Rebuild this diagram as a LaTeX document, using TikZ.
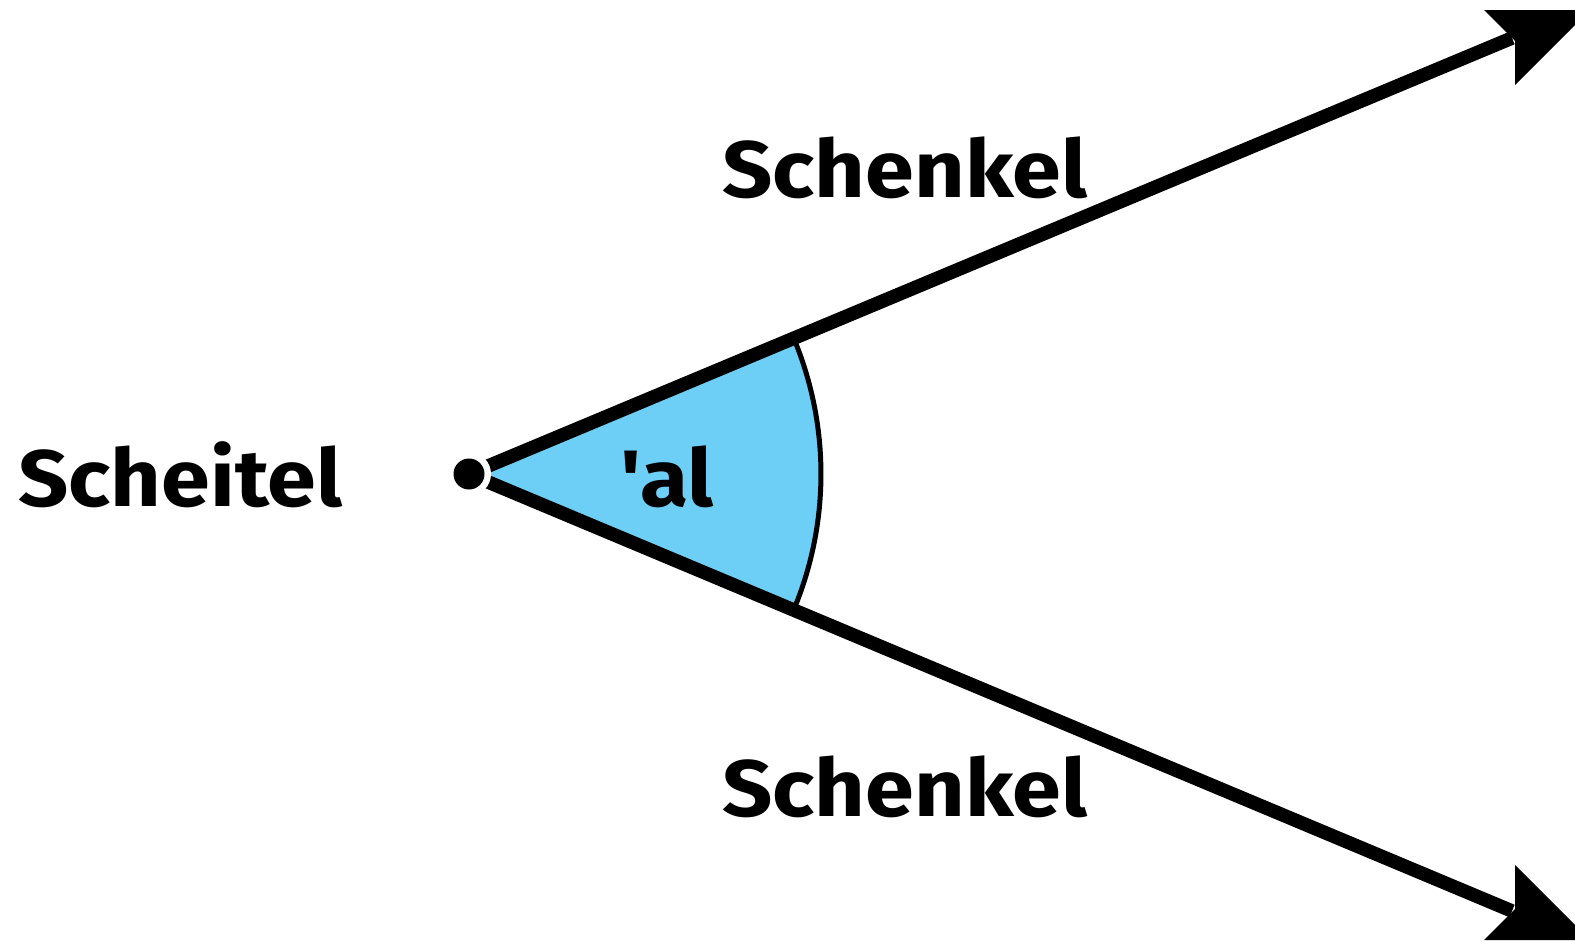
\documentclass[tikz,border=0pt]{standalone}
\usepackage{fontspec}
\setmainfont{Fira Sans}[Ligatures=TeXOff]
\definecolor{angblue}{RGB}{109,207,246}
\begin{document}
\begin{tikzpicture}[x=0.5pt,y=-0.5pt,
  leg/.style={line width=6.8pt},
  lbl/.style={font=\fontsize{40}{40}\selectfont\bfseries, inner sep=0pt, anchor=base west, xscale=1.1},
  head/.style={fill=black}]
\useasboundingbox (0,0) rectangle (1575,942);
\clip (0,0) rectangle (1575,942);
\coordinate (V) at (469,474);
\coordinate (E1) at (1512,38);
\coordinate (E2) at (1512,911);
\coordinate (A1) at (793.7,338.2);
% sector
\fill[angblue] (V) -- (A1) arc[start angle=22.7, end angle=-22.7, radius=176pt] -- cycle;
\draw[line width=2.5pt] (A1) arc[start angle=22.7, end angle=-22.7, radius=176pt];
% legs
\draw[leg] (V) -- (E1);
\draw[leg] (V) -- (E2);
% arrowheads
\fill[head] (1484,10) -- (1515,41) -- (1515,85) -- (1595,5) -- (1595,10) -- cycle;
\fill[head] (1484,940) -- (1515,909) -- (1515,865) -- (1595,945) -- (1595,940) -- cycle;
% vertex
\fill[white] (V) circle[radius=11pt];
\node[circle, fill=black, minimum size=15.5pt, inner sep=0pt] (dot) at (V) {};
% labels
\node[lbl] (s1) at (722,197) {Schenkel};
\node[lbl] (s2) at (722,816) {Schenkel};
\node[lbl] (sc) at (18,506) {Scheitel};
\node[lbl] (al) at (620,506) {'al};
\end{tikzpicture}
\end{document}
